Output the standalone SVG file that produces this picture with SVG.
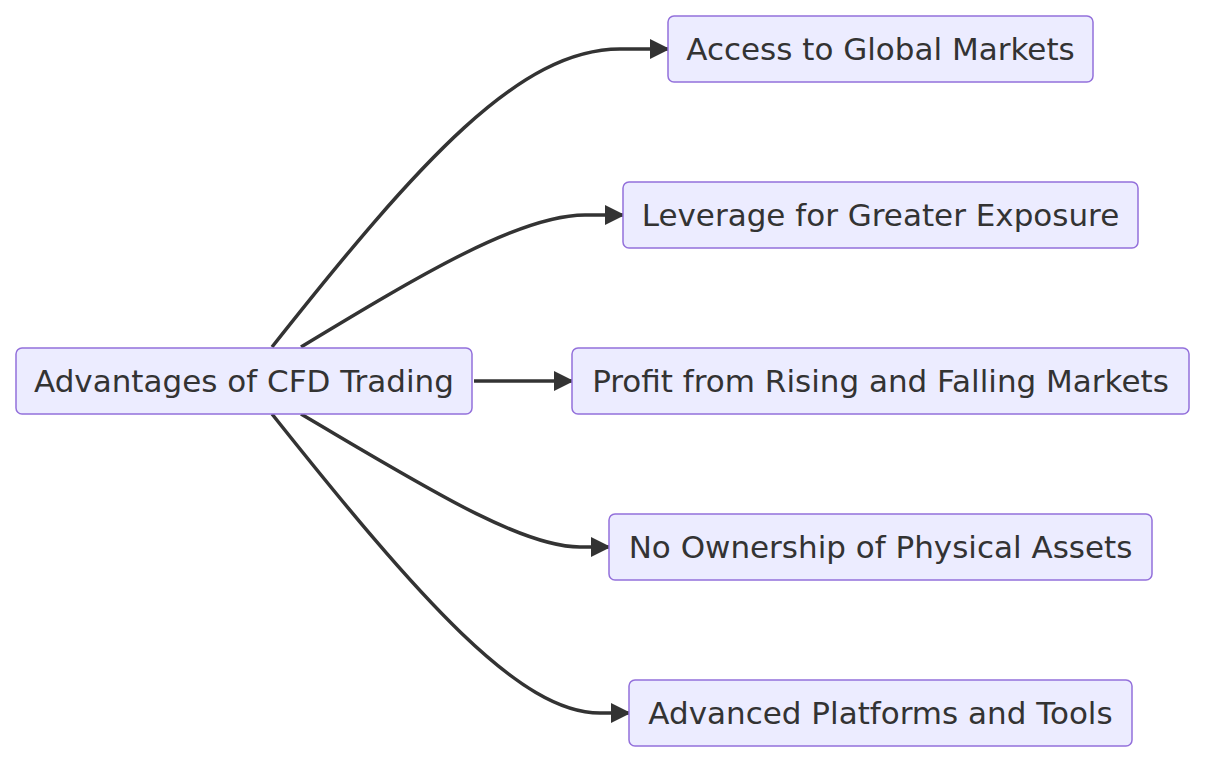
<svg xmlns="http://www.w3.org/2000/svg" width="1222" height="772" viewBox="0 0 1222 772">
<style>
.n rect{fill:#ECECFF;stroke:#9370DB;stroke-width:1.5}
.n text{font-family:"DejaVu Sans",sans-serif;font-size:31px;fill:#333;text-anchor:middle;dominant-baseline:central}
.e path{fill:none;stroke:#333;stroke-width:3.5}
</style>
<defs><marker id="a" viewBox="0 0 10 10" refX="9" refY="5" markerUnits="userSpaceOnUse" markerWidth="20" markerHeight="20" orient="auto"><path d="M0,0 L10,5 L0,10 z" fill="#333"/></marker></defs>
<rect width="1222" height="772" fill="#fff"/>
<g class="e">
<path d="M272,347 C420,160 520,49 620,49 L668,49" marker-end="url(#a)"/>
<path d="M301,347 C420,275 520,215 585,215 L623,215" marker-end="url(#a)"/>
<path d="M474,381 L572,381" marker-end="url(#a)"/>
<path d="M301,414 C420,484 520,547 580,547 L609,547" marker-end="url(#a)"/>
<path d="M272,414 C420,600 520,713 600,713 L629,713" marker-end="url(#a)"/>
</g>
<g class="n" id="center"><rect x="16" y="348" width="456" height="66" rx="6"/><text x="244" y="381">Advantages of CFD Trading</text></g>
<g class="n" id="access"><rect x="668" y="16" width="425" height="66" rx="6"/><text x="880.5" y="49">Access to Global Markets</text></g>
<g class="n" id="leverage"><rect x="623" y="182" width="515" height="66" rx="6"/><text x="880.5" y="215">Leverage for Greater Exposure</text></g>
<g class="n" id="profit"><rect x="572" y="348" width="617" height="66" rx="6"/><text x="880.5" y="381">Profit from Rising and Falling Markets</text></g>
<g class="n" id="own"><rect x="609" y="514" width="543" height="66" rx="6"/><text x="880.5" y="547">No Ownership of Physical Assets</text></g>
<g class="n" id="adv"><rect x="629" y="680" width="503" height="66" rx="6"/><text x="880.5" y="713">Advanced Platforms and Tools</text></g>
</svg>
